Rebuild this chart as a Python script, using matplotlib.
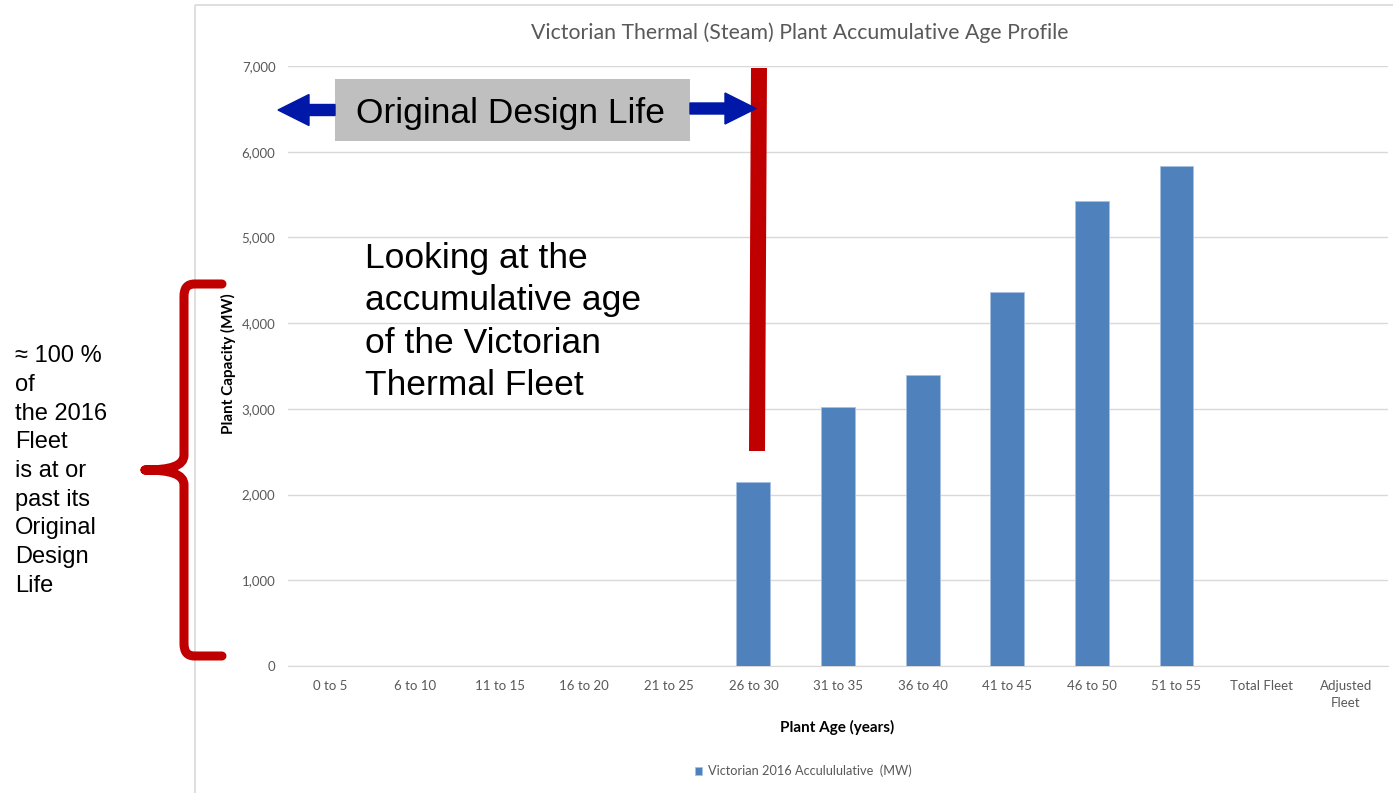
import matplotlib
matplotlib.use("Agg")
import matplotlib.pyplot as plt
from matplotlib.patches import Rectangle, FancyArrow, Polygon, PathPatch
from matplotlib.path import Path
from matplotlib.transforms import Affine2D

# Data
age_bands = ["0 to 5", "6 to 10", "11 to 15", "16 to 20", "21 to 25", "26 to 30",
             "31 to 35", "36 to 40", "41 to 45", "46 to 50", "51 to 55",
             "Total Fleet", "Adjusted\nFleet"]
capacity_mw = [0, 0, 0, 0, 0, 2150, 3020, 3400, 4365, 5420, 5830, 0, 0]
series_name = "Victorian 2016 Acculululative  (MW)"

W, H = 1393, 793
fig = plt.figure(figsize=(W / 100, H / 100), dpi=100)
# pixel coords (origin top-left) -> figure
px = Affine2D().scale(1 / W, -1 / H).translate(0, 1) + fig.transFigure

chart_font = "Lato"
note_font = "Liberation Sans"
grey = "#595959"
bar_blue = "#4F81BD"
red = "#C00000"
arrow_blue = "#0018A8"

# chart frame
fig.patches.append(Rectangle((195, 5), 1400, 900, transform=px, fill=False,
                             edgecolor="#D9D9D9", linewidth=1.2))

ax = fig.add_axes([288 / W, 1 - 666 / H, 1100 / W, 600 / H])
x = range(len(age_bands))
bars = ax.bar(x, capacity_mw, width=0.4, color=bar_blue, edgecolor="#A9C1E0",
              linewidth=0.6, label=series_name, zorder=3)
ax.set_xlim(-0.5, len(age_bands) - 0.5)
ax.set_ylim(0, 7000)
ax.set_yticks(range(0, 7001, 1000))
ax.yaxis.set_major_formatter(matplotlib.ticker.StrMethodFormatter("{x:,.0f}"))
ax.set_xticks(list(x))
ax.set_xticklabels(age_bands, linespacing=1.5)
ax.grid(axis="y", color="#D9D9D9", linewidth=1, zorder=0)
for s in ["top", "right", "left"]:
    ax.spines[s].set_visible(False)
ax.spines["bottom"].set_color("#D9D9D9")
ax.tick_params(length=0, colors=grey, labelsize=9.5)
ax.tick_params(axis="y", pad=9)
ax.tick_params(axis="x", pad=10)
for lbl in ax.get_xticklabels() + ax.get_yticklabels():
    lbl.set_fontfamily(chart_font)

fig.text(800, 33, "Victorian Thermal (Steam) Plant Accumulative Age Profile",
         transform=px, ha="center", va="center", color=grey, fontsize=15.3,
         family=chart_font)
fig.text(228, 364, "Plant Capacity (MW)", transform=px, rotation=90,
         ha="center", va="center", fontsize=11, fontweight="bold", family=chart_font)
fig.text(837, 727, "Plant Age (years)", transform=px, ha="center", va="center",
         fontsize=11, fontweight="bold", family=chart_font)

fig.legend(handles=[bars], loc="center", bbox_to_anchor=(803 / W, 1 - 771 / H),
           frameon=False, handlelength=0.6, handleheight=0.6, handletextpad=0.4,
           prop={"family": chart_font, "size": 9.2}, labelcolor=grey)

# "Original Design Life" callout
fig.patches.append(Rectangle((335, 79), 355, 62, transform=px,
                             facecolor="#BFBFBF", edgecolor="none"))
fig.text(511, 113, "Original Design Life", transform=px, ha="center",
         va="center", fontsize=25.5, family=note_font, color="black")
fig.patches.append(Polygon([(751, 68), (767, 68), (765, 451), (749, 451)],
                           closed=True, transform=px, facecolor=red,
                           edgecolor="none"))
fig.patches.append(FancyArrow(335, 110, -57, 0, width=11, head_width=31,
                              head_length=31, length_includes_head=True,
                              transform=px, color=arrow_blue))
fig.patches.append(FancyArrow(690, 108.5, 66, 0, width=11, head_width=31,
                              head_length=31, length_includes_head=True,
                              transform=px, color=arrow_blue))

fig.text(365, 322, "Looking at the\naccumulative age\nof the Victorian\nThermal Fleet",
         transform=px, ha="left", va="center", fontsize=25.5, family=note_font,
         linespacing=1.37, color="black")

# brace on the left
verts = [(222, 284), (195, 284), (187, 284), (184, 288), (184, 297),
         (184, 455), (184, 466), (170, 470), (145, 470),
         (145, 470), (170, 470), (184, 474), (184, 485),
         (184, 643), (184, 652), (187, 656), (195, 656), (222, 656)]
codes = [Path.MOVETO, Path.LINETO, Path.CURVE4, Path.CURVE4, Path.CURVE4,
         Path.LINETO, Path.CURVE4, Path.CURVE4, Path.CURVE4,
         Path.MOVETO, Path.CURVE4, Path.CURVE4, Path.CURVE4,
         Path.LINETO, Path.CURVE4, Path.CURVE4, Path.CURVE4, Path.LINETO]
fig.patches.append(PathPatch(Path(verts, codes), transform=px, fill=False,
                             edgecolor=red, linewidth=6.5, capstyle="round",
                             joinstyle="round"))

fig.text(15, 471, "≈ 100 %\nof\nthe 2016\nFleet\nis at or\npast its\nOriginal\nDesign\nLife",
         transform=px, ha="left", va="center", fontsize=17, family=note_font,
         linespacing=1.39, color="black")

fig.savefig("out.png", dpi=100)
